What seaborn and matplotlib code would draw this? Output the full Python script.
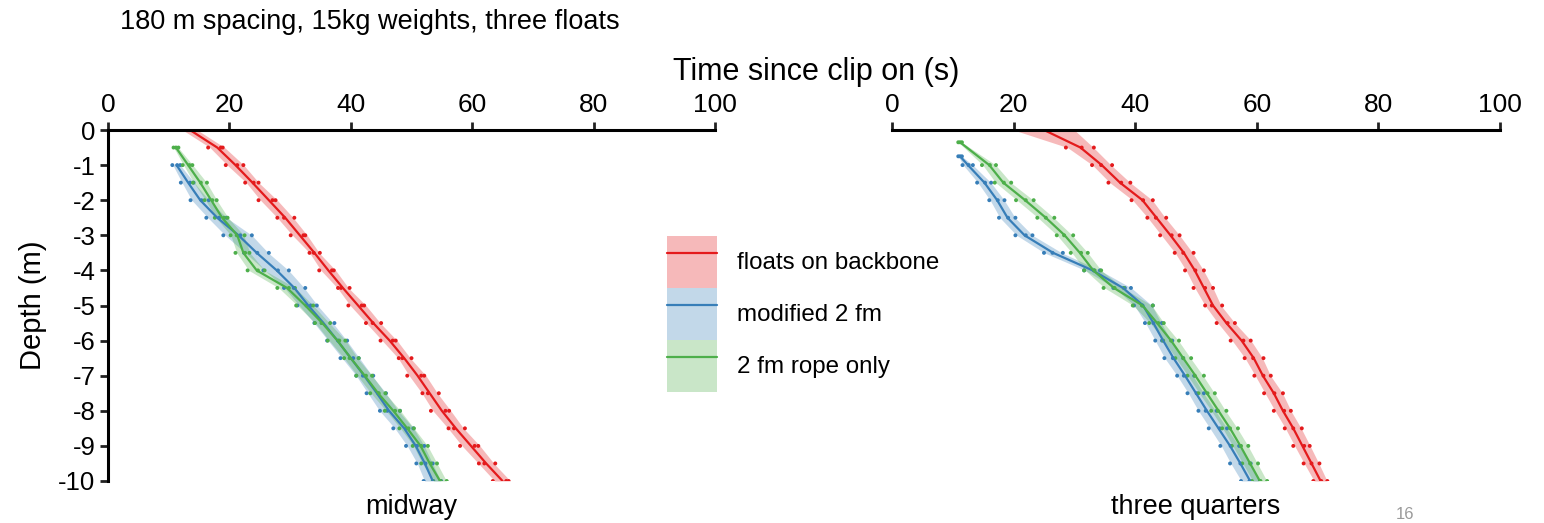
import numpy as np
import pandas as pd
import matplotlib
matplotlib.use("Agg")
import matplotlib.pyplot as plt
import seaborn as sns
from matplotlib.patches import Patch
from matplotlib.lines import Line2D

# ---------------- data ----------------
title = "180 m spacing, 15kg weights, three floats"
configs = ["floats on backbone", "modified 2 fm", "2 fm rope only"]
colors = ["#e41a1c", "#377eb8", "#4daf4a"]
panels = ["midway", "three quarters"]
x_ticks = [0, 20, 40, 60, 80, 100]
y_ticks = [0, -1, -2, -3, -4, -5, -6, -7, -8, -9, -10]

# midway - floats on backbone
mid_red_depth = [0, -0.5, -1, -1.5, -2, -2.5, -3, -3.5, -4, -4.5, -5, -5.5, -6, -6.5, -7, -7.5, -8, -8.5, -9, -9.5, -10]
mid_red_t1 = [12.0, 16.5, 19.4, 22.6, 24.8, 27.9, 30.1, 33.2, 34.8, 37.9, 39.6, 42.5, 44.9, 47.9, 49.3, 51.8, 53.2, 56.1, 58.0, 61.1, 63.4]
mid_red_t2 = [14.1, 18.6, 21.3, 24.0, 27.1, 29.0, 32.2, 33.9, 36.9, 38.4, 41.8, 43.6, 46.9, 48.5, 51.6, 52.7, 55.6, 57.0, 60.4, 62.0, 65.6]
mid_red_t3 = [14.4, 18.9, 22.3, 24.8, 27.6, 30.7, 32.5, 34.9, 37.2, 39.8, 42.2, 45.0, 47.4, 50.0, 52.1, 54.5, 56.2, 58.8, 61.0, 63.8, 66.0]

# midway - modified 2 fm
mid_blue_depth = [-1, -1.5, -2, -2.5, -3, -3.5, -4, -4.5, -5, -5.5, -6, -6.5, -7, -7.5, -8, -8.5, -9, -9.5, -10]
mid_blue_t1 = [10.6, 12.0, 13.6, 16.2, 19.0, 22.4, 25.6, 29.0, 31.2, 34.0, 36.1, 38.3, 40.9, 42.6, 44.8, 47.0, 49.1, 50.8, 52.0]
mid_blue_t2 = [11.4, 13.5, 15.4, 18.3, 21.8, 24.6, 28.0, 30.6, 33.4, 35.2, 37.9, 40.4, 42.0, 44.5, 46.0, 49.1, 50.9, 52.3, 53.6]
mid_blue_t3 = [11.9, 14.1, 16.6, 19.5, 23.7, 26.5, 29.8, 32.5, 34.4, 37.3, 39.4, 41.3, 43.7, 45.8, 48.1, 50.3, 52.1, 53.5, 54.9]

# midway - 2 fm rope only
mid_green_depth = [-0.5, -1, -1.5, -2, -2.5, -3, -3.5, -4, -4.5, -5, -5.5, -6, -6.5, -7, -7.5, -8, -8.5, -9, -9.5, -10]
mid_green_t1 = [10.8, 12.3, 14.0, 15.9, 17.6, 20.2, 21.0, 23.0, 27.9, 31.0, 34.1, 36.2, 38.9, 40.9, 43.2, 45.6, 48.0, 50.2, 51.6, 53.5]
mid_green_t2 = [11.2, 13.4, 15.3, 17.2, 19.1, 21.2, 22.6, 24.7, 29.8, 32.7, 35.2, 38.1, 39.8, 42.5, 44.6, 47.3, 49.5, 51.6, 53.2, 54.8]
mid_green_t3 = [11.6, 13.9, 16.3, 17.9, 19.7, 22.5, 23.3, 25.8, 30.8, 33.8, 36.6, 39.1, 41.3, 43.5, 45.7, 48.1, 50.4, 52.7, 54.2, 55.8]

# three quarters - floats on backbone
tq_red_depth = [0, -0.5, -1, -1.5, -2, -2.5, -3, -3.5, -4, -4.5, -5, -5.5, -6, -6.5, -7, -7.5, -8, -8.5, -9, -9.5, -10]
tq_red_t1 = [19.5, 28.6, 32.9, 35.6, 39.4, 42.0, 44.1, 46.5, 48.2, 49.6, 51.5, 53.4, 55.7, 58.0, 59.6, 61.2, 62.8, 64.6, 66.0, 67.7, 69.3]
tq_red_t2 = [25.2, 31.2, 34.4, 37.7, 41.3, 43.4, 46.0, 47.9, 49.9, 51.5, 52.6, 55.2, 57.8, 59.4, 61.1, 62.9, 64.5, 66.0, 67.8, 69.0, 70.6]
tq_red_t3 = [30.3, 33.2, 36.2, 39.2, 42.9, 45.1, 47.3, 49.6, 51.3, 52.8, 54.3, 56.4, 59.0, 61.1, 62.3, 64.3, 65.6, 67.4, 68.7, 70.3, 71.6]

# three quarters - modified 2 fm
tq_blue_depth = [-0.75, -1, -1.5, -2, -2.5, -3, -3.5, -4, -4.5, -5, -5.5, -6, -6.5, -7, -7.5, -8, -8.5, -9, -9.5, -10]
tq_blue_t1 = [10.9, 11.6, 14.0, 16.0, 17.6, 20.3, 25.0, 31.6, 36.4, 39.8, 41.6, 43.3, 44.8, 46.9, 48.6, 50.4, 52.1, 54.0, 55.6, 57.4]
tq_blue_t2 = [11.2, 12.6, 15.3, 17.4, 19.1, 22.0, 26.4, 33.2, 38.3, 41.2, 43.0, 44.4, 46.2, 48.0, 50.1, 51.6, 53.9, 55.7, 57.3, 58.8]
tq_blue_t3 = [11.5, 13.3, 16.3, 18.5, 20.3, 23.1, 28.1, 34.2, 39.3, 42.9, 44.4, 46.1, 47.9, 49.7, 51.3, 53.4, 55.1, 57.1, 59.0, 60.5]

# three quarters - 2 fm rope only
tq_green_depth = [-0.35, -1, -1.5, -2, -2.5, -3, -3.5, -4, -4.5, -5, -5.5, -6, -6.5, -7, -7.5, -8, -8.5, -9, -9.5, -10]
tq_green_t1 = [10.9, 14.8, 16.9, 20.4, 23.9, 27.1, 29.4, 31.6, 34.8, 39.6, 42.3, 44.6, 46.6, 48.6, 50.4, 52.5, 54.3, 55.9, 57.6, 59.2]
tq_green_t2 = [11.2, 16.1, 18.4, 22.0, 25.3, 28.3, 31.1, 33.3, 36.6, 41.1, 43.8, 45.9, 47.9, 49.8, 51.9, 53.6, 55.6, 57.4, 58.9, 60.6]
tq_green_t3 = [11.5, 17.1, 19.6, 23.3, 26.7, 29.8, 32.2, 34.4, 38.1, 42.9, 44.7, 47.2, 49.2, 51.3, 53.1, 55.0, 56.9, 58.6, 60.2, 61.7]

# ---------------- build long table ----------------
series = [
    ("midway", configs[0], mid_red_depth, [mid_red_t1, mid_red_t2, mid_red_t3]),
    ("midway", configs[1], mid_blue_depth, [mid_blue_t1, mid_blue_t2, mid_blue_t3]),
    ("midway", configs[2], mid_green_depth, [mid_green_t1, mid_green_t2, mid_green_t3]),
    ("three quarters", configs[0], tq_red_depth, [tq_red_t1, tq_red_t2, tq_red_t3]),
    ("three quarters", configs[1], tq_blue_depth, [tq_blue_t1, tq_blue_t2, tq_blue_t3]),
    ("three quarters", configs[2], tq_green_depth, [tq_green_t1, tq_green_t2, tq_green_t3]),
]
rows = []
for panel, cfg, depth, trials in series:
    for k, tr in enumerate(trials):
        for d, t in zip(depth, tr):
            rows.append({"panel": panel, "config": cfg, "trial": k, "depth": d, "time": t})
df = pd.DataFrame(rows)

# ---------------- style ----------------
sns.set_theme(style="white")
plt.rcParams["font.family"] = ["Liberation Sans", "DejaVu Sans"]
plt.rcParams["axes.unicode_minus"] = False
for key in ["text.color", "axes.labelcolor", "xtick.color", "ytick.color"]:
    plt.rcParams[key] = "black"

W, H = 1544, 523
fig = plt.figure(figsize=(W / 100, H / 100), dpi=100)
palette = dict(zip(configs, colors))

ax_pos = [(108, 715), (892, 1500)]
top_px, bot_px = 130, 481
axes = []
for (x0, x1), panel in zip(ax_pos, panels):
    ax = fig.add_axes([x0 / W, 1 - bot_px / H, (x1 - x0) / W, (bot_px - top_px) / H])
    sub = df[df["panel"] == panel]
    sns.lineplot(data=sub, x="time", y="depth", hue="config", hue_order=configs,
                 palette=palette, orient="y", errorbar=("se", 1.6), linewidth=1.6,
                 err_kws={"alpha": 0.3, "linewidth": 0}, legend=False, ax=ax)
    sns.scatterplot(data=sub, x="time", y="depth", hue="config", hue_order=configs,
                    palette=palette, s=8, linewidth=0, legend=False, ax=ax)
    ax.set_xlim(0, 100)
    ax.set_ylim(-10, 0)
    ax.xaxis.tick_top()
    ax.set_xticks(x_ticks)
    ax.set_xticklabels([str(v) for v in x_ticks])
    ax.set_xlabel("")
    for s in ["right", "bottom"]:
        ax.spines[s].set_visible(False)
    ax.spines["top"].set_linewidth(2.2)
    ax.spines["top"].set_color("black")
    ax.tick_params(axis="x", which="both", top=True, bottom=False, direction="out",
                   length=6, width=2.0, labelsize=19, pad=3, color="#222222",
                   labelcolor="black")
    axes.append(ax)

axL, axR = axes
axL.set_yticks(y_ticks)
axL.set_yticklabels([str(v) for v in y_ticks])
axL.spines["left"].set_linewidth(2.2)
axL.spines["left"].set_color("black")
axL.tick_params(axis="y", left=True, direction="out", length=6, width=2.0,
                labelsize=18.5, pad=3, color="#222222", labelcolor="black")
axL.set_ylabel("Depth (m)", fontsize=21, labelpad=8)
axR.spines["left"].set_visible(False)
axR.set_yticks([])
axR.set_ylabel("")

fig.text(816 / W, 1 - 72 / H, "Time since clip on (s)", fontsize=22,
         ha="center", va="center")
fig.text(120 / W, 1 - 22 / H, title, fontsize=19.5, ha="left", va="center")
for ax, panel in zip(axes, panels):
    ax.text(0.5, -0.075, panel, transform=ax.transAxes, fontsize=19.5,
            ha="center", va="center")
fig.text(1405 / W, 1 / H, "16", fontsize=12, color="#9a9a9a",
         ha="center", va="bottom")

# legend
leg_fs = 17.4
fs_px = leg_fs * 100 / 72
hh = (52 / fs_px - 0.245) / 0.65
handles = [(Patch(facecolor=c, alpha=0.3, linewidth=0), Line2D([], [], color=c, linewidth=1.6))
           for c in colors]
fig.legend(handles, configs, loc="upper left", bbox_to_anchor=(667 / W, 1 - 236 / H),
           frameon=False, borderpad=0, borderaxespad=0, labelspacing=0,
           handlelength=50 / fs_px, handleheight=hh,
           handletextpad=20 / fs_px, fontsize=leg_fs)

fig.savefig("out.png", dpi=100)
